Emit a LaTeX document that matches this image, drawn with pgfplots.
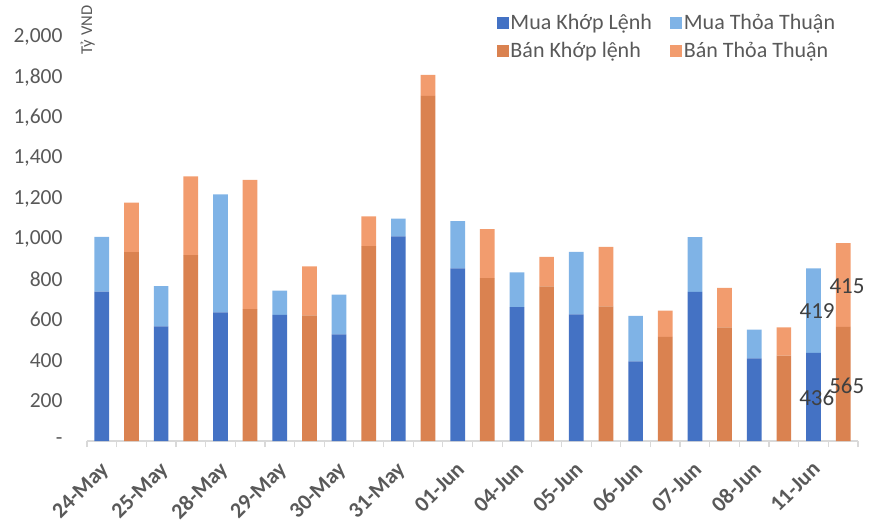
\documentclass[border=0pt]{standalone}
\usepackage{fontspec}
\setmainfont{Carlito}
\usepackage{pgfplots}
\usepackage{pgfplotstable}
\pgfplotsset{compat=1.18}
\definecolor{muakl}{HTML}{4472C4}
\definecolor{muatt}{HTML}{7FB3E6}
\definecolor{bankl}{HTML}{DA8250}
\definecolor{bantt}{HTML}{F29C6E}
\definecolor{txtgray}{HTML}{595959}
\definecolor{axgray}{HTML}{D9D9D9}

% one row per bar: even rows = Mua, odd rows = Ban
\pgfplotstableread{
x mkl mtt bkl btt
0 740 270 0 0
1 0 0 935 245
2 567 200 0 0
3 0 0 920 390
4 637 584 0 0
5 0 0 653 640
6 624 120 0 0
7 0 0 622 243
8 528 197 0 0
9 0 0 965 147
10 1013 88 0 0
11 0 0 1708 105
12 855 233 0 0
13 0 0 806 243
14 663 172 0 0
15 0 0 766 145
16 627 309 0 0
17 0 0 667 294
18 394 225 0 0
19 0 0 515 130
20 738 271 0 0
21 0 0 562 196
22 409 142 0 0
23 0 0 423 139
24 436 419 0 0
25 0 0 565 415
}\flows

\begin{document}
\begin{tikzpicture}
\useasboundingbox (-87bp,-80bp) rectangle (783bp,441bp);
\begin{axis}[
  scale only axis,
  width=771bp, height=404bp,
  ybar stacked,
  bar width=14.7bp,
  clip=false,
  xmin=-0.5, xmax=25.5,
  ymin=0, ymax=2000,
  axis x line*=bottom,
  axis y line*=left,
  x axis line style={draw=axgray, line width=1.2bp},
  y axis line style={draw=none},
  xtick={0,2,...,24},
  xticklabels={24-May,25-May,28-May,29-May,30-May,31-May,01-Jun,04-Jun,05-Jun,06-Jun,07-Jun,08-Jun,11-Jun},
  minor xtick={-0.5,0.5,...,25.5},
  major tick length=0pt,
  minor tick length=6bp,
  tick align=outside,
  minor tick style={draw=axgray, line width=1.2bp},
  ytick={0,200,...,2000},
  yticklabels={-,200,400,600,800,{1,000},{1,200},{1,400},{1,600},{1,800},{2,000}},
  ytick style={draw=none},
  yticklabel style={font=\fontsize{21.5bp}{25bp}\selectfont, text=txtgray, anchor=east, xshift=-21bp},
  xticklabel style={font=\fontsize{22bp}{26bp}\selectfont\bfseries, text=txtgray, rotate=45, anchor=north east, yshift=-8.5bp, xshift=-12bp},
  legend columns=2,
  legend cell align=left,
  legend style={at={(0.527,1.066)}, anchor=north west, draw=none, fill=none,
    font=\fontsize{22bp}{26bp}\selectfont, text=txtgray, row sep=7bp,
    /tikz/every even column/.append style={column sep=16bp}},
  legend image code/.code={\fill[#1] (0bp,-6bp) rectangle (12bp,6bp);},
]
\addplot[fill=muakl, draw=none] table[x=x, y=mkl] {\flows};
\addlegendentry{Mua Khớp Lệnh}
\addplot[fill=muatt, draw=none] table[x=x, y=mtt] {\flows};
\addlegendentry{Mua Thỏa Thuận}
\addplot[fill=bankl, draw=none] table[x=x, y=bkl] {\flows};
\addlegendentry{Bán Khớp lệnh}
\addplot[fill=bantt, draw=none] table[x=x, y=btt] {\flows};
\addlegendentry{Bán Thỏa Thuận}

\coordinate (unit) at (rel axis cs:0.001,1.017);
\coordinate (lA) at (axis cs:24.11,213);
\coordinate (lB) at (axis cs:25.12,274);
\coordinate (lC) at (axis cs:24.12,645);
\coordinate (lD) at (axis cs:25.13,766);
\end{axis}
\node[rotate=90, font=\fontsize{16.5bp}{19bp}\selectfont, text=txtgray] at (unit) {Tỷ VND};
\node[font=\fontsize{23bp}{26bp}\selectfont, text=black!75] at (lA) {436};
\node[font=\fontsize{23bp}{26bp}\selectfont, text=black!75] at (lB) {565};
\node[font=\fontsize{23bp}{26bp}\selectfont, text=black!75] at (lC) {419};
\node[font=\fontsize{23bp}{26bp}\selectfont, text=black!75] at (lD) {415};
\end{tikzpicture}
\end{document}
